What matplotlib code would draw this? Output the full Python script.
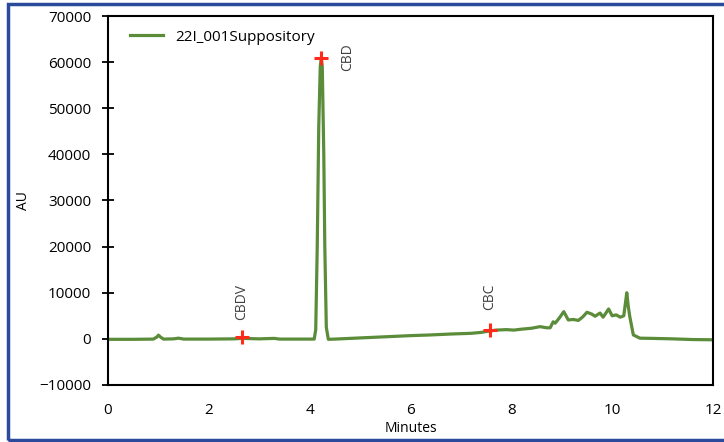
import matplotlib
matplotlib.use("Agg")
import matplotlib.pyplot as plt
from matplotlib.patches import Rectangle

plt.rcParams['font.family'] = ['Open Sans', 'DejaVu Sans']

# chromatogram (minutes, AU)
minutes = [0.0, 0.5, 0.9, 0.97, 1.0, 1.04, 1.1, 1.3, 1.4, 1.5, 2.0, 2.5, 2.66,
           3.0, 3.3, 3.4, 3.6, 4.0, 4.09, 4.12, 4.15, 4.18, 4.21, 4.23, 4.25,
           4.28, 4.30, 4.33, 4.37, 4.5, 5.0, 5.5, 6.0, 6.4, 6.8, 7.2, 7.4,
           7.57, 7.7, 7.9, 8.05, 8.2, 8.4, 8.57, 8.7, 8.77, 8.83, 8.87, 8.95,
           9.04, 9.13, 9.23, 9.33, 9.42, 9.5, 9.6, 9.66, 9.76, 9.82, 9.93,
           10.0, 10.08, 10.16, 10.23, 10.26, 10.29, 10.32, 10.35, 10.42,
           10.55, 10.8, 11.2, 11.6, 12.0]
au = [-100, -100, -50, 400, 800, 400, -50, 0, 150, -50, -50, 0, 100,
      0, 100, -50, -50, -50, -50, 2000, 20000, 46000, 59000, 61000, 59000,
      40000, 20000, 2500, -100, -50, 200, 450, 700, 850, 1050, 1200, 1400,
      1700, 1900, 2000, 1900, 2100, 2300, 2650, 2400, 2400, 3700, 3400, 4500,
      5900, 4100, 4200, 4000, 4800, 5770, 5350, 4900, 5600, 4700, 6480,
      5000, 5200, 4700, 5000, 7500, 10000, 7000, 4800, 850,
      150, 100, 0, -150, -200]

peak_names = ['CBDV', 'CBD', 'CBC']
peak_min = [2.66, 4.23, 7.57]
peak_au = [400, 61000, 1900]

fig = plt.figure(figsize=(7.24, 4.42), dpi=100)
ax = fig.add_axes([0.1492, 0.129, 0.8356, 0.8348])

ax.plot(minutes, au, color='#5b8c3a', lw=2.3, label='22I_001Suppository')
ax.plot(peak_min, peak_au, '+', color='#ff2a1a', ms=10, mew=2.2, zorder=5)

# label placement next to each marker
for name, x, y in zip(peak_names, peak_min, peak_au):
    if name == 'CBD':
        ax.text(x + 0.52, 64000, name, rotation=90, ha='center',
                va='top', fontsize=10, color='#404040')
    elif name == 'CBDV':
        ax.text(x, y + 3700, name, rotation=90, ha='center', va='bottom',
                fontsize=10, color='#404040')
    else:
        ax.text(x, y + 4400, name, rotation=90, ha='center', va='bottom',
                fontsize=10, color='#404040')

ax.set_xlim(0, 12)
ax.set_ylim(-10000, 70000)
ax.set_xticks(range(0, 13, 2))
ax.set_yticks(range(-10000, 70001, 10000))
ax.tick_params(axis='y', direction='inout', length=8, width=1.3, labelsize=11,
               pad=8, colors='black')
ax.tick_params(axis='x', length=0, labelsize=11, pad=13)
for s in ax.spines.values():
    s.set_linewidth(1.5)

ax.set_xlabel('Minutes', fontsize=10, labelpad=2)
ax.set_ylabel('AU', fontsize=10, labelpad=6)

ax.legend(loc='upper left', frameon=False, fontsize=11, handlelength=2.2,
          bbox_to_anchor=(0.013, 1.0), borderaxespad=0.5)

fig.patches.append(Rectangle((8 / 724, 2 / 442), 1.0, 436 / 442,
                             transform=fig.transFigure, fill=False,
                             edgecolor='#2b4a9b', lw=2.5))

fig.savefig('out.png', dpi=100)
